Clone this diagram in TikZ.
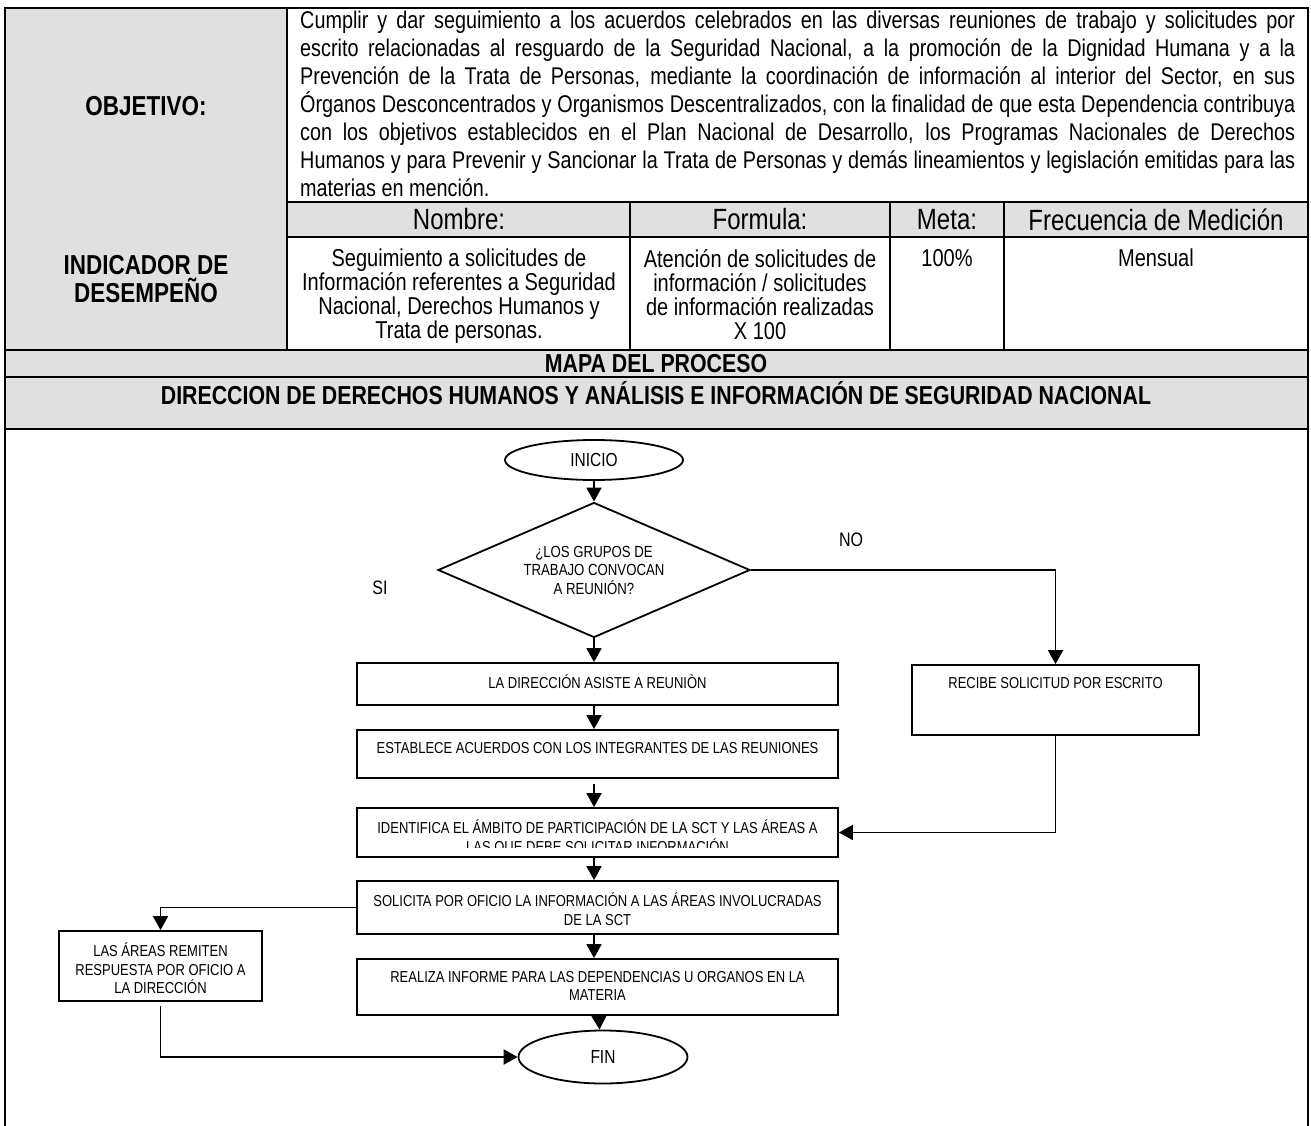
\documentclass[tikz,border=0pt]{standalone}
\usepackage{fontspec}
\setmainfont{Liberation Sans}[FakeStretch=0.82]
\usepackage{tikz}
\usetikzlibrary{calc}
\usetikzlibrary{arrows.meta}
\usetikzlibrary{positioning}
\usetikzlibrary{shapes.geometric}
\definecolor{cellgray}{RGB}{224,224,224}

\tikzset{
  tableline/.style={line width=1.9pt, black},
  frameline/.style={line width=2.3pt, black},
  flowline/.style={line width=1.8pt, black},
  flowarrow/.style={flowline, -{Triangle[length=14pt,width=15pt]}},
  procbox/.style={draw, line width=1.8pt, inner sep=0pt, font=\fontsize{15.85}{18.5}\selectfont},
  termnode/.style={draw, ellipse, line width=1.8pt, inner sep=0pt, font=\fontsize{18.9}{20}\selectfont},
  decnode/.style={draw, diamond, aspect=2.31, line width=1.8pt, inner sep=0pt, align=center, font=\fontsize{16.1}{18.5}\selectfont},
  labelcell/.style={font=\bfseries\fontsize{27.4}{28}\selectfont, align=center},
  headcell/.style={font=\fontsize{29.3}{30}\selectfont},
  datacell/.style={font=\fontsize{24.4}{24}\selectfont, align=center},
  bandtext/.style={font=\bfseries\fontsize{26}{28}\selectfont},
  flowlabel/.style={font=\fontsize{19.5}{20}\selectfont}
}
% texto superior dentro de una caja de ancho y alto fijos
\newcommand{\boxtext}[3]{\parbox[c][#2pt][t]{#1pt}{\centering\vspace*{12pt}#3\par}}
% parrafo justificado sin guiones ni espacios comprimidos
\newcommand{\wordpar}{\hyphenpenalty=10000\exhyphenpenalty=10000\spaceskip=\fontdimen2\font plus 3\fontdimen2\font minus 0pt\relax}

\begin{document}
\begin{tikzpicture}[x=1pt, y=-1pt]
  \useasboundingbox (0,0) rectangle (1311,1126);

  % fondos grises
  \fill[cellgray] (5,8) rectangle (287,350);
  \fill[cellgray] (287,202) rectangle (1308,237);
  \fill[cellgray] (5,350) rectangle (1308,429);

  % tabla
  \draw[frameline] (5,1130) -- (5,8) -- (1308,8) -- (1308,1130);
  \draw[tableline] (287,8) -- (287,350);
  \draw[tableline] (287,202) -- (1308,202);
  \draw[tableline] (287,237) -- (1308,237);
  \foreach \xc in {630, 890, 1004}
    \draw[tableline] (\xc,202) -- (\xc,350);
  \draw[tableline] (5,350) -- (1308,350);
  \draw[tableline] (5,377) -- (1308,377);
  \draw[tableline] (5,429) -- (1308,429);

  % encabezados y contenido
  \node[labelcell] (objlabel) at (146,106) {OBJETIVO:};
  \node[anchor=north west, inner sep=0pt, text width=995pt, align=justify,
        font=\fontsize{24.15}{28}\selectfont] (objtext) at (300,10.5)
    {\wordpar Cumplir y dar seguimiento a los acuerdos celebrados en las diversas reuniones de trabajo y solicitudes por\linebreak
     escrito relacionadas al resguardo de la Seguridad Nacional, a la promoción de la Dignidad Humana y a la\linebreak
     Prevención de la Trata de Personas, mediante la coordinación de información al interior del Sector, en sus\linebreak
     Órganos Desconcentrados y Organismos Descentralizados, con la finalidad de que esta Dependencia contribuya\linebreak
     con los objetivos establecidos en el Plan Nacional de Desarrollo, los Programas Nacionales de Derechos\linebreak
     Humanos y para Prevenir y Sancionar la Trata de Personas y demás lineamientos y legislación emitidas para las\linebreak
     materias en mención.};
  \node[labelcell] (indlabel) at (146,279) {INDICADOR DE\\DESEMPEÑO};
  \node[headcell] (hnombre) at (459,219.5) {Nombre:};
  \node[headcell] (hformula) at (760,219.5) {Formula:};
  \node[headcell] (hmeta) at (947,219.5) {Meta:};
  \node[headcell] (hfrec) at (1156,219.5) {Frecuencia de Medición};
  \node[datacell, anchor=north, inner sep=0pt] (dnombre) at (459,249)
    {Seguimiento a solicitudes de\\Información referentes a Seguridad\\Nacional, Derechos Humanos y\\Trata de personas.};
  \node[datacell, anchor=north, inner sep=0pt] (dformula) at (760,249)
    {Atención de solicitudes de\\información / solicitudes\\de información realizadas\\X 100};
  \node[datacell, anchor=north, inner sep=0pt] (dmeta) at (947,249) {100\%};
  \node[datacell, anchor=north, inner sep=0pt] (dfrec) at (1156,249) {Mensual};
  \node[bandtext] (mapa) at (656,364) {MAPA DEL PROCESO};
  \node[bandtext] (direccion) at (656,393)
    {DIRECCION DE DERECHOS HUMANOS Y ANÁLISIS E INFORMACIÓN DE SEGURIDAD NACIONAL};

  % diagrama de flujo
  \node[termnode, minimum width=178pt, minimum height=40pt] (inicio) at (594,460) {INICIO};
  \node[decnode, minimum width=312pt, minimum height=135pt] (pregunta) at (594,570)
    {¿LOS GRUPOS DE\\TRABAJO CONVOCAN\\A REUNIÓN?};
  \node[flowlabel] (no) at (851,540) {NO};
  \node[flowlabel] (si) at (380,588) {SI};
  \node[procbox] (asiste) at (597.5,684) {\boxtext{481}{42}{LA DIRECCIÓN ASISTE A REUNIÒN}};
  \node[procbox] (acuerdos) at (597.5,754) {\boxtext{481}{48}{ESTABLECE ACUERDOS CON LOS INTEGRANTES DE LAS REUNIONES}};
  \node[procbox] (identifica) at (597.5,832.5) {\boxtext{481}{49}{IDENTIFICA EL ÁMBITO DE PARTICIPACIÓN DE LA SCT Y LAS ÁREAS A}};
  \begin{scope}
    \clip (360,810) rectangle (836,847);
    \node[font=\fontsize{15.85}{18.5}\selectfont] (identifica2) at (597.5,847) {LAS QUE DEBE SOLICITAR INFORMACIÓN};
  \end{scope}
  \node[procbox] (solicita) at (597.5,907.5) {\boxtext{481}{53}{SOLICITA POR OFICIO LA INFORMACIÓN A LAS ÁREAS INVOLUCRADAS\\DE LA SCT}};
  \node[procbox] (informe) at (597.5,987) {\boxtext{481}{56}{REALIZA INFORME PARA LAS DEPENDENCIAS U ORGANOS EN LA\\MATERIA}};
  \node[procbox] (recibe) at (1055.5,700) {\boxtext{287}{70}{RECIBE SOLICITUD POR ESCRITO}};
  \node[procbox] (remiten) at (160.5,966) {\boxtext{203}{70}{LAS ÁREAS REMITEN\\RESPUESTA POR OFICIO A\\LA DIRECCIÓN}};
  \node[termnode, minimum width=169pt, minimum height=53pt] (fin) at (603,1057) {FIN};

  % conectores
  \draw[flowarrow] (inicio.south) -- (pregunta.north);
  \draw[flowarrow] (pregunta.south) -- (pregunta.south |- asiste.north);
  \draw[flowarrow] (asiste.south -| pregunta.south) -- (acuerdos.north -| pregunta.south);
  \draw[flowarrow, shorten <=5pt] (acuerdos.south -| pregunta.south) -- (identifica.north -| pregunta.south);
  \draw[flowarrow] (identifica.south -| pregunta.south) -- (solicita.north -| pregunta.south);
  \draw[flowarrow] (solicita.south -| pregunta.south) -- (informe.north -| pregunta.south);
  \draw[flowarrow] ($(informe.south)+(1.5,0)$) -- ($(fin.north)+(-3.5,0)$);
  \draw[flowarrow] (pregunta.east) -| (recibe.north);
  \draw[flowarrow] (recibe.south) |- (identifica.east);
  \draw[flowarrow] (solicita.west) -| (remiten.north);
  \draw[flowarrow, shorten <=4pt] (remiten.south) |- (fin.west);
\end{tikzpicture}
\end{document}
